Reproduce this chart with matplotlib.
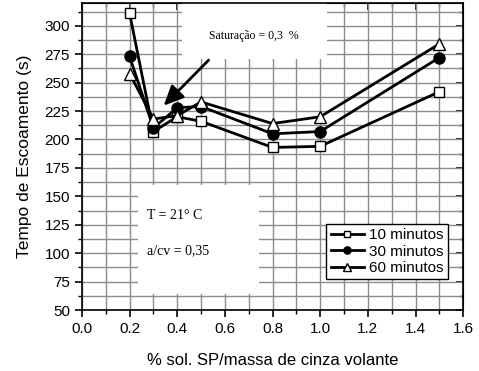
import matplotlib.pyplot as plt
from matplotlib.patches import Rectangle
from matplotlib.ticker import MultipleLocator

# Tempo de escoamento (s) por teor de SP
teor_sp = [0.2, 0.3, 0.4, 0.5, 0.8, 1.0, 1.5]
t_10min = [311, 207, 220, 216, 193, 194, 242]
t_30min = [273, 210, 228, 229, 205, 207, 272]
t_60min = [258, 218, 221, 233, 214, 220, 284]

fig = plt.figure(figsize=(4.79, 3.71), dpi=100)
ax = fig.add_axes([0.171, 0.164, 0.796, 0.828])

ax.set_xlim(0, 1.6)
ax.set_ylim(50, 320)

# grade fina a cada 0.1 e 12.5
ax.xaxis.set_major_locator(MultipleLocator(0.2))
ax.xaxis.set_minor_locator(MultipleLocator(0.1))
ax.yaxis.set_major_locator(MultipleLocator(25))
ax.yaxis.set_minor_locator(MultipleLocator(12.5))
ax.grid(which='both', color='#8c8c8c', linewidth=1.0)
ax.set_axisbelow(True)

# caixas brancas para os textos
ax.add_patch(Rectangle((0.42, 271), 0.61, 60, facecolor='white', edgecolor='none', zorder=1))
ax.add_patch(Rectangle((0.235, 64), 0.51, 96, facecolor='white', edgecolor='none', zorder=1))

ax.plot(teor_sp, t_10min, '-s', color='black', lw=2, ms=7, mfc='white', mec='black', mew=1.0,
        label='10 minutos', zorder=3)
ax.plot(teor_sp, t_30min, '-o', color='black', lw=2, ms=8, mfc='black', mec='black',
        label='30 minutos', zorder=3)
ax.plot(teor_sp, t_60min, '-^', color='black', lw=2, ms=9, mfc='white', mec='black', mew=1.0,
        label='60 minutos', zorder=4)

ax.annotate('', xy=(0.335, 228), xytext=(0.54, 271.5),
            arrowprops=dict(arrowstyle='-|>,head_length=1.2,head_width=0.55', color='black', lw=2),
            zorder=5)
ax.text(0.72, 291, 'Saturação = 0,3  %', family='Liberation Serif', fontsize=8.5,
        ha='center', va='center', zorder=5)
ax.text(0.275, 133, 'T = 21° C', family='Liberation Serif', fontsize=10, va='center', zorder=5)
ax.text(0.275, 102, 'a/cv = 0,35', family='Liberation Serif', fontsize=10, va='center', zorder=5)

leg = ax.legend(loc='lower right', bbox_to_anchor=(0.96, 0.10), prop={'family': 'Liberation Sans', 'size': 11},
                fancybox=False, framealpha=1, edgecolor='black', handlelength=2.2, handletextpad=0.3,
                borderpad=0.3, labelspacing=0.15, borderaxespad=0, markerscale=0.65)
leg.get_frame().set_linewidth(1.0)
leg.set_zorder(6)

for s in ax.spines.values():
    s.set_linewidth(1.2)

ax.tick_params(which='major', direction='out', length=5, width=1.2, labelsize=11)
ax.tick_params(which='minor', direction='out', length=3, width=1.0)
for lbl in ax.get_xticklabels() + ax.get_yticklabels():
    lbl.set_family('Liberation Sans')
ax.xaxis.set_major_formatter(plt.FuncFormatter(lambda v, p: f'{v:.1f}'))

# ticks internos no topo e na direita
top = ax.secondary_xaxis('top')
top.xaxis.set_major_locator(MultipleLocator(0.2))
top.xaxis.set_minor_locator(MultipleLocator(0.1))
top.tick_params(which='major', direction='in', length=5, width=1.2, labeltop=False)
top.tick_params(which='minor', direction='in', length=3, width=1.0)
right = ax.secondary_yaxis('right')
right.yaxis.set_major_locator(MultipleLocator(25))
right.yaxis.set_minor_locator(MultipleLocator(12.5))
right.tick_params(which='major', direction='in', length=5, width=1.2, labelright=False)
right.tick_params(which='minor', direction='in', length=3, width=1.0)

ax.set_xlabel('% sol. SP/massa de cinza volante', family='Liberation Sans', fontsize=12, labelpad=12)
ax.set_ylabel('Tempo de Escoamento (s)', family='Liberation Sans', fontsize=12.5, labelpad=9)

fig.savefig('out.png', dpi=100)
